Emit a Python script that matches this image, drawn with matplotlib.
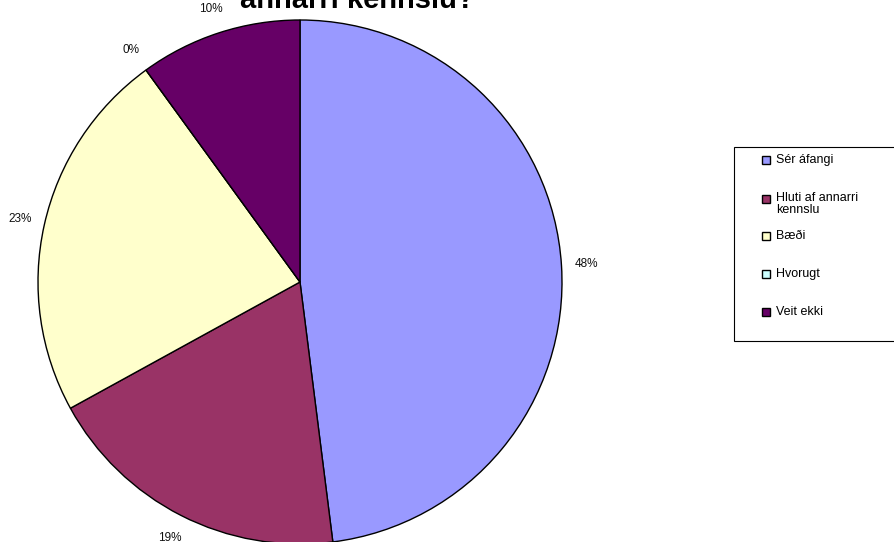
import matplotlib
matplotlib.use('Agg')
import matplotlib.pyplot as plt
from matplotlib.patches import Rectangle

plt.rcParams['font.family'] = ['Liberation Sans', 'DejaVu Sans']

# data
categories = ['Sér áfangi', 'Hluti af annarri\nkennslu', 'Bæði', 'Hvorugt', 'Veit ekki']
values = [48, 19, 23, 0, 10]
colors = ['#9999FF', '#993366', '#FFFFCC', '#CCFFFF', '#660066']
title_text = 'annarri kennslu?'

W, H = 894, 542
fig = plt.figure(figsize=(W / 100, H / 100), dpi=100)

# pie centre ~ (300, 282) px, radius ~ 262 px
cx, cy, r = 300, 282, 262
ax = fig.add_axes([(cx - r) / W, (H - cy - r) / H, 2 * r / W, 2 * r / H])
ax.pie(values, colors=colors, startangle=90, counterclock=False,
       autopct='%.0f%%', pctdistance=1.095, radius=1,
       wedgeprops=dict(edgecolor='black', linewidth=1.0),
       textprops=dict(fontsize=8.5, color='#111111'))
ax.set_xlim(-1, 1)
ax.set_ylim(-1, 1)
ax.set_aspect('equal')
ax.axis('off')

# title, only its second line is visible in the reference
fig.text(357 / W, 1 - 8 / H, title_text, ha='center', va='baseline',
         fontsize=21, fontweight='bold')

# legend box drawn by hand, Excel style
box_top, box_bottom, box_left = 147, 341, 734
fig.add_artist(Rectangle((box_left / W, 1 - box_bottom / H), 0.3, (box_bottom - box_top) / H,
                         transform=fig.transFigure, facecolor='white',
                         edgecolor='black', linewidth=0.8))
row_y = [160, 199, 236, 274, 312]
sq = 8
for label, col, y in zip(categories, colors, row_y):
    fig.add_artist(Rectangle((762 / W, 1 - (y + sq / 2) / H), sq / W, sq / H,
                             transform=fig.transFigure, facecolor=col,
                             edgecolor='black', linewidth=1.0))
    if '\n' in label:
        fig.text(776 / W, 1 - (y - 7) / H, label, ha='left', va='top',
                 fontsize=9, linespacing=1.0)
    else:
        fig.text(776 / W, 1 - y / H, label, ha='left', va='center', fontsize=9)

fig.savefig('out.png', dpi=100)
